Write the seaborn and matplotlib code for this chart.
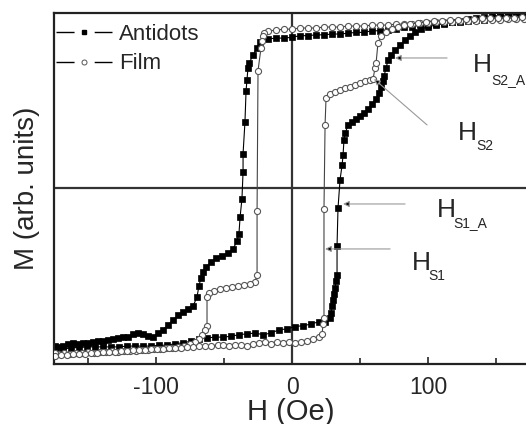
import matplotlib
matplotlib.use("Agg")
import matplotlib.pyplot as plt
from matplotlib.lines import Line2D
import seaborn as sns
import pandas as pd

# Antidots, field sweep from +H to -H
anti_down_h = [170.6, 164.7, 158.8, 152.9, 147.1, 141.2, 135.3, 129.4, 123.5, 117.6, 111.8, 105.9,
               100.0, 94.1, 88.2, 82.4, 76.5, 70.6, 64.7, 58.8, 52.9, 47.1, 41.2, 35.3, 29.4, 23.5,
               17.6, 11.8, 5.9, 0.0, -5.9, -11.8, -17.6,
               -23.5, -25.7, -28.7, -31.6, -32.4, -33.1, -33.8, -34.6, -36.0, -36.0, -36.8, -38.2,
               -39.0, -40.4,
               -43.4, -47.1, -51.5, -55.9, -59.6, -63.2, -65.4, -66.9, -68.4, -69.9, -72.8, -76.5,
               -80.1, -83.8, -87.5, -91.2, -94.9, -98.5, -102.2, -105.9, -109.6, -113.2, -116.9,
               -120.6, -124.3, -127.9, -131.6, -135.3, -139.0, -142.6, -146.3, -150.0, -153.7,
               -157.4, -161.0, -164.7, -168.4, -172.1, -174.3]
anti_down_m = [1.06, 1.055, 1.05, 1.05, 1.045, 1.03, 1.03, 1.025, 1.02, 1.02, 1.005, 1.005,
               1.0, 1.0, 0.99, 0.99, 0.975, 0.97, 0.965, 0.965, 0.955, 0.955, 0.95, 0.945, 0.945, 0.94,
               0.94, 0.935, 0.935, 0.925, 0.92, 0.92, 0.915,
               0.895, 0.86, 0.815, 0.765, 0.735, 0.665, 0.595, 0.405, 0.21, 0.1, -0.065, -0.18,
               -0.28, -0.325,
               -0.375, -0.40, -0.415, -0.43, -0.455, -0.485, -0.515, -0.55, -0.60, -0.67, -0.725, -0.745,
               -0.76, -0.78, -0.81, -0.84, -0.87, -0.89, -0.915, -0.91, -0.895, -0.89, -0.895,
               -0.915, -0.915, -0.92, -0.925, -0.935, -0.94, -0.94, -0.945, -0.95, -0.95,
               -0.955, -0.95, -0.955, -0.97, -0.975, -0.97]

# Antidots, field sweep from -H to +H
anti_up_h = [-174.3, -168.4, -162.5, -156.6, -150.7, -144.9, -139.0, -133.1, -127.2, -121.3, -115.4,
             -109.6, -103.7, -97.8, -91.9, -86.0, -80.1, -74.3, -68.4, -62.5, -56.6, -50.7, -44.9,
             -39.0, -33.1, -27.2, -21.3, -15.4, -9.6, -3.7, 2.2, 8.1, 14.0, 19.9, 24.3, 27.9,
             28.7, 29.4, 30.1, 30.9, 31.6, 32.4, 33.1, 33.1, 33.8, 35.3, 36.8, 37.5, 38.2, 39.0, 41.2,
             44.1, 47.1, 50.0, 52.9, 55.9, 58.8, 61.8, 64.0, 65.4, 66.9, 67.6, 69.1, 70.6, 72.8,
             75.7, 79.4, 83.1, 86.8, 90.4, 94.9, 100.0, 105.9, 111.8, 117.6, 123.5, 129.4, 135.3,
             141.2, 147.1, 152.9, 158.8, 164.7, 170.6]
anti_up_m = [-0.995, -0.99, -0.98, -0.98, -0.975, -0.975, -0.975, -0.975, -0.975, -0.97, -0.97,
             -0.97, -0.97, -0.965, -0.965, -0.955, -0.95, -0.94, -0.925, -0.92, -0.915, -0.915, -0.91,
             -0.9, -0.895, -0.89, -0.9, -0.89, -0.87, -0.865, -0.85, -0.845, -0.835, -0.82, -0.82, -0.80,
             -0.765, -0.725, -0.685, -0.65, -0.615, -0.57, -0.535, -0.355, -0.125, 0.05, 0.14, 0.2, 0.295, 0.335, 0.385,
             0.405, 0.425, 0.44, 0.46, 0.485, 0.515, 0.545, 0.585, 0.62, 0.655, 0.685, 0.735, 0.785, 0.815,
             0.845, 0.875, 0.91, 0.935, 0.955, 0.975, 0.99, 1.0, 1.01, 1.02, 1.025, 1.035, 1.045,
             1.05, 1.055, 1.06, 1.06, 1.065, 1.065]

# Film, field sweep from +H to -H
film_down_h = [170.6, 164.7, 158.8, 152.9, 147.1, 141.2, 135.3, 129.4, 123.5, 117.6, 111.8, 105.9,
               100.0, 94.1, 88.2, 82.4, 76.5, 70.6, 64.7, 58.8, 52.9, 47.1, 41.2, 35.3, 29.4, 23.5,
               17.6, 11.8, 5.9, 0.0, -5.9, -11.8, -17.6,
               -20.6, -21.3, -22.1, -22.8, -25.0, -25.7, -25.7,
               -27.2, -30.9, -35.3, -39.7, -44.1, -48.5, -52.9, -57.4, -61.0, -62.5,
               -62.5, -64.0, -66.2, -68.4, -71.3, -75.0, -79.4, -83.8, -88.2, -92.6, -97.1, -101.5,
               -105.9, -110.3, -114.7, -119.1, -123.5, -127.9, -132.4, -136.8, -141.2, -145.6,
               -150.0, -154.4, -158.8, -163.2, -167.6, -172.1, -174.3]
film_down_m = [1.037, 1.037, 1.037, 1.031, 1.031, 1.031, 1.025, 1.025, 1.025, 1.018, 1.018, 1.018,
               1.012, 1.012, 1.006, 1.006, 1.006, 1.0, 1.0, 1.0, 0.994, 0.994, 0.994, 0.988, 0.988,
               0.988, 0.982, 0.982, 0.982, 0.975, 0.975, 0.969, 0.963,
               0.95, 0.93, 0.90, 0.86, 0.72, -0.14, -0.535,
               -0.575, -0.59, -0.595, -0.60, -0.607, -0.613, -0.62, -0.632, -0.644, -0.669,
               -0.847, -0.871, -0.902, -0.926, -0.945, -0.957, -0.969, -0.975, -0.982, -0.982, -0.988, -0.988,
               -0.994, -0.994, -1.0, -1.0, -1.0, -1.006, -1.0, -1.006, -1.006, -1.012,
               -1.006, -1.012, -1.012, -1.018, -1.012, -1.018, -1.012]

# Film, field sweep from -H to +H
film_up_h = [-174.3, -169.9, -165.4, -161.0, -156.6, -152.2, -147.8, -143.4, -139.0, -134.6, -130.1,
             -125.7, -121.3, -116.9, -112.5, -108.1, -103.7, -99.3, -94.9, -90.4, -86.0, -81.6,
             -77.2, -72.8, -68.4, -64.0, -59.6, -54.4, -50.7, -46.3, -41.9, -37.5, -33.1, -28.7,
             -24.3, -19.9, -15.4, -11.0, -6.6, -2.2, 2.2, 6.6, 11.0, 15.4, 19.9,
             22.1, 22.8, 23.5, 23.5, 24.3, 25.0,
             27.9, 31.6, 35.3, 39.0, 42.6, 46.3, 50.0, 53.7, 57.4, 59.6,
             61.0, 61.8, 63.2, 65.4, 69.1, 73.5, 77.9, 82.4, 86.8, 92.6, 98.5, 104.4, 110.3, 116.2,
             122.1, 127.9, 133.8, 139.7, 145.6, 151.5, 157.4, 163.2, 169.1]
film_up_m = [-1.03, -1.025, -1.025, -1.018, -1.018, -1.018, -1.012, -1.012, -1.006, -1.006, -1.006,
             -1.0, -1.0, -0.994, -0.994, -0.994, -0.988, -0.988, -0.988, -0.982, -0.982, -0.982,
             -0.975, -0.975, -0.969, -0.969, -0.969, -0.963, -0.963, -0.969, -0.963, -0.963, -0.969, -0.957,
             -0.951, -0.945, -0.957, -0.945, -0.951, -0.945, -0.951, -0.945, -0.939, -0.926, -0.914,
             -0.896, -0.834, -0.798, -0.129, 0.387, 0.552,
             0.577, 0.589, 0.601, 0.613, 0.62, 0.632, 0.644, 0.656, 0.663, 0.669,
             0.736, 0.767, 0.89, 0.933, 0.957, 0.975, 0.988, 1.0, 1.006, 1.012, 1.018, 1.025, 1.025, 1.031,
             1.031, 1.037, 1.037, 1.043, 1.043, 1.043, 1.043, 1.043, 1.049]

x_ticks = [-100, 0, 100]
x_minor = [-150, -50, 50, 150]


def branch(h, m, sample, sweep):
    return pd.DataFrame({"H": h, "M": m, "sample": sample, "sweep": sweep})


df = pd.concat([
    branch(anti_down_h, anti_down_m, "Antidots", "down"),
    branch(anti_up_h, anti_up_m, "Antidots", "up"),
    branch(film_down_h, film_down_m, "Film", "down"),
    branch(film_up_h, film_up_m, "Film", "up"),
], ignore_index=True)

sns.set_style("ticks")
plt.rcParams["font.family"] = ["Liberation Sans", "DejaVu Sans"]
plt.rcParams["axes.unicode_minus"] = False

fig = plt.figure(figsize=(5.26, 4.24), dpi=100)
ax = fig.add_axes([54 / 526, 1 - 364 / 424, 474 / 526, 351 / 424])

styles = {
    "Antidots": dict(color="black", marker="s", markersize=4.6, mfc="black", mec="black",
                     mew=0.5, lw=0.8),
    "Film": dict(color="#444444", marker="o", markersize=4.4, mfc="white", mec="#555555",
                 mew=0.8, lw=0.8),
}

for (sample, sweep), part in df.groupby(["sample", "sweep"], sort=False):
    sns.lineplot(data=part, x="H", y="M", sort=False, estimator=None, ax=ax, legend=False,
                 zorder=3 if sample == "Film" else 2, **styles[sample])

ax.axhline(0, color="#333333", lw=1.6, zorder=1)
ax.axvline(0, color="#333333", lw=1.6, zorder=1)

ax.set_xlim(-175, 173.5)
ax.set_ylim(-1.08, 1.074)
ax.set_xticks(x_ticks)
ax.set_xticks(x_minor, minor=True)
ax.set_yticks([])
ax.tick_params(axis="x", which="major", direction="in", length=5, width=1.2, labelsize=16.5, pad=9)
ax.tick_params(axis="x", which="minor", direction="in", length=4, width=1.2)
for s in ax.spines.values():
    s.set_linewidth(1.6)
    s.set_color("#222222")

ax.set_xlabel("H (Oe)", fontsize=21, labelpad=-1)
ax.set_ylabel("M (arb. units)", fontsize=20, labelpad=10)

# field markers with arrows
arrow_kw = dict(arrowstyle="-|>", color="#999999", lw=0.8, mutation_scale=9,
                shrinkA=0, shrinkB=0)
arrows = [((114.0, 0.798), (75.7, 0.798)),
          ((99.3, 0.387), (60.3, 0.669)),
          ((83.1, -0.098), (37.5, -0.098)),
          ((72.1, -0.374), (24.3, -0.374))]
for tail, tip in arrows:
    a = ax.annotate("", xy=tip, xytext=tail, arrowprops=arrow_kw, zorder=5)
    a.arrow_patch.set_facecolor("black")
    a.arrow_patch.set_edgecolor("#999999")

labels = [((133.1, 0.712), (146.4, 0.638), "S2_A"),
          ((122.1, 0.294), (135.3, 0.233), "S2"),
          ((106.6, -0.178), (118.4, -0.239), "S1_A"),
          ((88.2, -0.503), (100.0, -0.564), "S1")]
for hpos, spos, sub in labels:
    ax.text(*hpos, "H", fontsize=19, ha="left", va="baseline")
    ax.text(*spos, sub, fontsize=10, ha="left", va="baseline")

# legend handles drawn as "— marker —" like the original
proxies = [
    Line2D([], [], color="black", lw=1.0, linestyle=(0, (13, 14.5)), marker="s",
           markersize=3.2, mfc="black", mec="black"),
    Line2D([], [], color="black", lw=1.0, linestyle=(0, (13, 14.5)), marker="o",
           markersize=3.6, mfc="white", mec="#555555", mew=0.7),
]
ax.legend(proxies, ["Antidots", "Film"], loc="upper left", bbox_to_anchor=(0.004, 0.97),
          frameon=False, fontsize=16, handlelength=2.52, numpoints=1,
          handletextpad=0.32, borderaxespad=0, borderpad=0, labelspacing=0.4)

fig.savefig("out.png", dpi=100)
